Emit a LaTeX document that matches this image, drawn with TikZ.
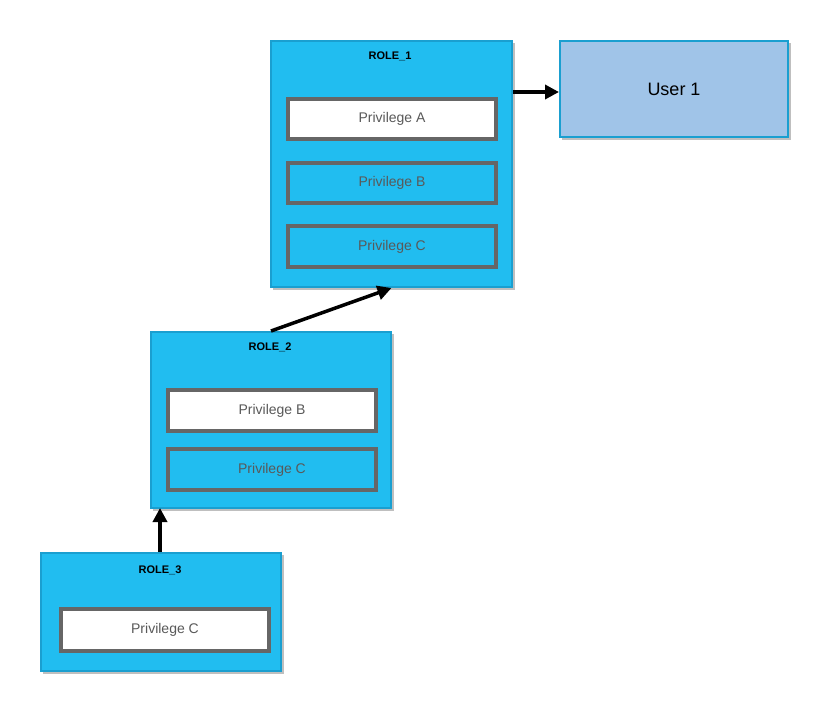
\documentclass[tikz,border=0pt]{standalone}
\usepackage{fontspec}
\setmainfont{Liberation Sans}
\usetikzlibrary{arrows.meta}
\definecolor{cyanf}{HTML}{21BDF0}
\definecolor{cyanb}{HTML}{1A9FD0}
\definecolor{userf}{HTML}{A0C4E8}
\definecolor{pgray}{HTML}{666666}
\begin{document}
\begin{tikzpicture}[x=1pt,y=-1pt,
 role/.style={draw=cyanb,fill=cyanf,line width=2pt,inner sep=0pt,anchor=north west},
 shadowbox/.style={fill=black!25,inner sep=0pt,anchor=north west},
 priv/.style={draw=pgray,line width=4pt,inner sep=0pt,anchor=north west,text=black!65,font=\fontsize{14}{16}\selectfont},
 ttl/.style={font=\bfseries\fontsize{11}{13}\selectfont},
 arr/.style={line width=3.5pt,-{Triangle[length=14pt,width=14pt]}}]
\useasboundingbox (0,0) rectangle (827,713);
% shadows
\fill[black!25] (273,43) rectangle (515,290);
\fill[black!25] (562,43) rectangle (791,140);
\fill[black!25] (153,334) rectangle (394,511);
\fill[black!25] (43,555) rectangle (284,674);
% roles
\node[role,minimum width=241pt,minimum height=246pt] (r1) at (270,40) {};
\node[role,draw=cyanb,fill=userf,minimum width=228pt,minimum height=96pt,font=\fontsize{18}{20}\selectfont] (u) at (559,40) {User 1};
\node[role,minimum width=240pt,minimum height=176pt] (r2) at (150,331) {};
\node[role,minimum width=240pt,minimum height=118pt] (r3) at (40,552) {};
\node[ttl] (t1) at (390,56) {ROLE\_1};
\node[ttl] (t2) at (270,347) {ROLE\_2};
\node[ttl] (t3) at (160,570) {ROLE\_3};
% privileges
\node[priv,fill=white,minimum width=208pt,minimum height=40pt] (a1) at (286,97) {Privilege A};
\node[priv,fill=cyanf,minimum width=208pt,minimum height=40pt] (b1) at (286,161) {Privilege B};
\node[priv,fill=cyanf,minimum width=208pt,minimum height=41pt] (c1) at (286,224) {Privilege C};
\node[priv,fill=white,minimum width=208pt,minimum height=41pt] (b2) at (166,388) {Privilege B};
\node[priv,fill=cyanf,minimum width=208pt,minimum height=41pt] (c2) at (166,447) {Privilege C};
\node[priv,fill=white,minimum width=208pt,minimum height=42pt] (c3) at (59,607) {Privilege C};
% arrows
\draw[arr] (r1.east |- 0,92) -- (u.west |- 0,92);
\draw[arr] (r2.north) -- (r1.south);
\draw[arr] (160,552) -- (160,508);
\end{tikzpicture}
\end{document}
